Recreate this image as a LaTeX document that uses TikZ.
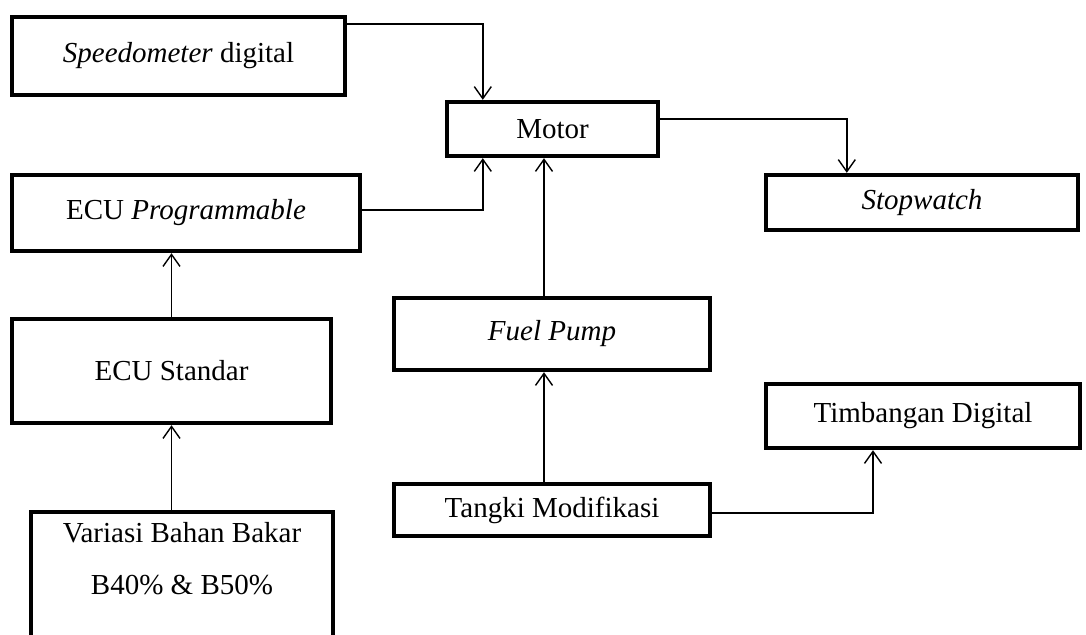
\documentclass[tikz,border=0pt]{standalone}
\usepackage{fontspec}
\setmainfont{Liberation Serif}
\usetikzlibrary{arrows.meta}
\begin{document}
\begin{tikzpicture}[x=0.5pt, y=-0.5pt, >={Straight Barb[length=6pt,width=8.5pt]}]
	\tikzstyle{box}  = [rectangle, draw=black, line width=2.2pt, inner sep=0pt, align=center, font=\fontsize{14.5}{26}\selectfont]
	\tikzstyle{link} = [->, line width=0.7pt]

	\useasboundingbox (0,0) rectangle (1086,634);

	\foreach \name/\x/\y/\w/\h/\txt in {speedo/178.5/56/333/78/\textit{Speedometer} digital, motor/552.5/129/211/54/Motor, ecuprog/186/213/348/76/ECU \textit{Programmable}, stop/922/202.5/312/55/\textit{Stopwatch}, ecustd/171.5/371/319/104/ECU Standar, fuel/552/334/316/72/\textit{Fuel Pump}, timb/923/416/314/64/Timbangan Digital, tangki/552/510/316/52/Tangki Modifikasi}
		\node[box, minimum width=\w*0.5pt, minimum height=\h*0.5pt] (\name) at (\x,\y) {\txt};

	\node[box, minimum width=151pt, minimum height=80pt, anchor=north] (variasi) at (182,510) {Variasi Bahan Bakar\\B40\% \& B50\%\\\strut};

	\draw[link] ([yshift=-4.5pt]speedo.north east) -| ([xshift=19pt]motor.north west);
	\draw[link] ([yshift=1.5pt]ecuprog.east) -| ([xshift=19pt]motor.south west);
	\draw[link] ([xshift=-4pt]fuel.north) -- ([xshift=-4pt]fuel.north |- motor.south);
	\draw[link] ([yshift=5pt]motor.east) -| ([xshift=41.5pt]stop.north west);
	\draw[link] (ecustd.north) -- (ecuprog.south -| ecustd.north);
	\draw[link] (variasi.north -| ecustd.north) -- (ecustd.south);
	\draw[link] ([xshift=-4pt]tangki.north) -- ([xshift=-4pt]fuel.south);
	\draw[link] ([yshift=-1.5pt]tangki.east) -| ([xshift=-25pt]timb.south);

\end{tikzpicture}
\end{document}
